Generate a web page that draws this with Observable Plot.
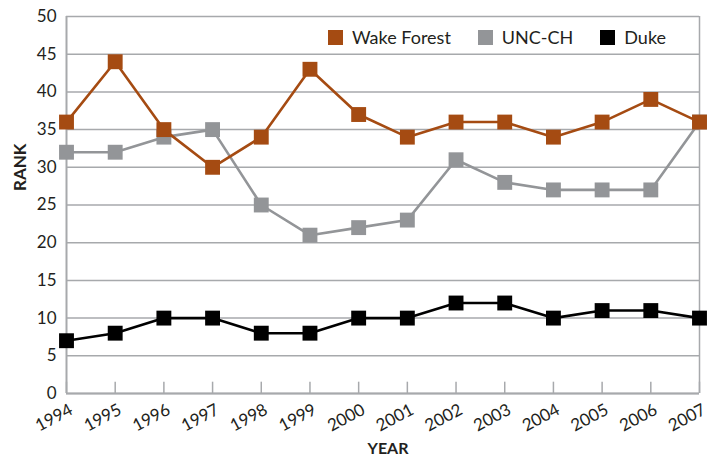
<!DOCTYPE html>
<html><head><meta charset="utf-8">
<script src="https://cdn.jsdelivr.net/npm/d3@7"></script>
<script src="https://cdn.jsdelivr.net/npm/@observablehq/plot@0.6"></script>
<style>
body{margin:0;background:#fff;}
#wrap{position:relative;width:710px;height:458px;font-family:Lato,"Open Sans",sans-serif;color:#231f20;}
#legend{position:absolute;top:28px;left:328px;display:flex;align-items:center;font-size:18px;line-height:18px;}
#legend .item{display:flex;align-items:center;margin-right:27px;}
#legend .sw{width:15px;height:15px;margin-right:9px;}
</style>
</head><body><div id="wrap"></div>
<script>
const years = [1994,1995,1996,1997,1998,1999,2000,2001,2002,2003,2004,2005,2006,2007];
const wakeForest = [36,44,35,30,34,43,37,34,36,36,34,36,39,36];
const uncCH = [32,32,34,35,25,21,22,23,31,28,27,27,27,36];
const duke = [7,8,10,10,8,8,10,10,12,12,10,11,11,10];
const seriesNames = ["Wake Forest","UNC-CH","Duke"];
const seriesColors = ["#a54b12","#939598","#000000"];
const yTicks = [0,5,10,15,20,25,30,35,40,45,50];
const xTitle = "YEAR";
const yTitle = "RANK";
const drawOrder = ["Duke","UNC-CH","Wake Forest"];

const seriesValues = {"Wake Forest": wakeForest, "UNC-CH": uncCH, "Duke": duke};
const table = drawOrder.flatMap(s => years.map((y,i) => ({series:s, year:y, rank:seriesValues[s][i]})));

const marks = [
  Plot.gridY(yTicks, {stroke:"#a7a9ac", strokeOpacity:1, strokeWidth:1.5}),
  Plot.ruleX([years[years.length-1]], {stroke:"#a7a9ac", strokeWidth:1.5}),
  Plot.ruleX(years, {x:d=>d, y1:0, y2:1.5, stroke:"#a7a9ac", strokeWidth:1.5}),
  Plot.ruleX([years[0]], {stroke:"#a7a9ac", strokeWidth:2}),
  Plot.ruleY([0], {stroke:"#a7a9ac", strokeWidth:2}),
  Plot.axisY({ticks:yTicks, tickSize:0, tickPadding:10, label:null}),
  Plot.axisX({ticks:years, tickFormat:d=>String(d), tickSize:0, tickPadding:8, tickRotate:-28, dx:5, dy:7, label:null}),
  Plot.text([xTitle], {frameAnchor:"bottom", text:d=>d, dx:5, dy:60, fontWeight:"bold", fontSize:16}),
  Plot.text([yTitle], {frameAnchor:"left", text:d=>d, dx:-46, dy:-14, rotate:-90, fontWeight:"bold", fontSize:17}),
];
for (const s of drawOrder) {
  const d = table.filter(r => r.series === s);
  marks.push(Plot.line(d, {x:"year", y:"rank", stroke:"series", strokeWidth:2.6}));
  marks.push(Plot.dot(d, {x:"year", y:"rank", fill:"series", symbol:"square", r:8.4}));
}

const chart = Plot.plot({
  width:710, height:458,
  marginLeft:66, marginRight:11, marginTop:16, marginBottom:65,
  style:{fontFamily:'Lato,"Open Sans",sans-serif', fontSize:"17px", color:"#231f20", background:"#fff"},
  x:{domain:[years[0], years[years.length-1]]},
  y:{domain:[0,50]},
  color:{domain:seriesNames, range:seriesColors},
  marks
});
const wrap = document.getElementById("wrap");
wrap.appendChild(chart);

const legend = document.createElement("div");
legend.id = "legend";
seriesNames.forEach((name,i) => {
  const item = document.createElement("div");
  item.className = "item";
  const sw = document.createElement("span");
  sw.className = "sw";
  sw.style.background = seriesColors[i];
  const t = document.createElement("span");
  t.textContent = name;
  item.appendChild(sw); item.appendChild(t);
  legend.appendChild(item);
});
wrap.appendChild(legend);
</script>
</body></html>
